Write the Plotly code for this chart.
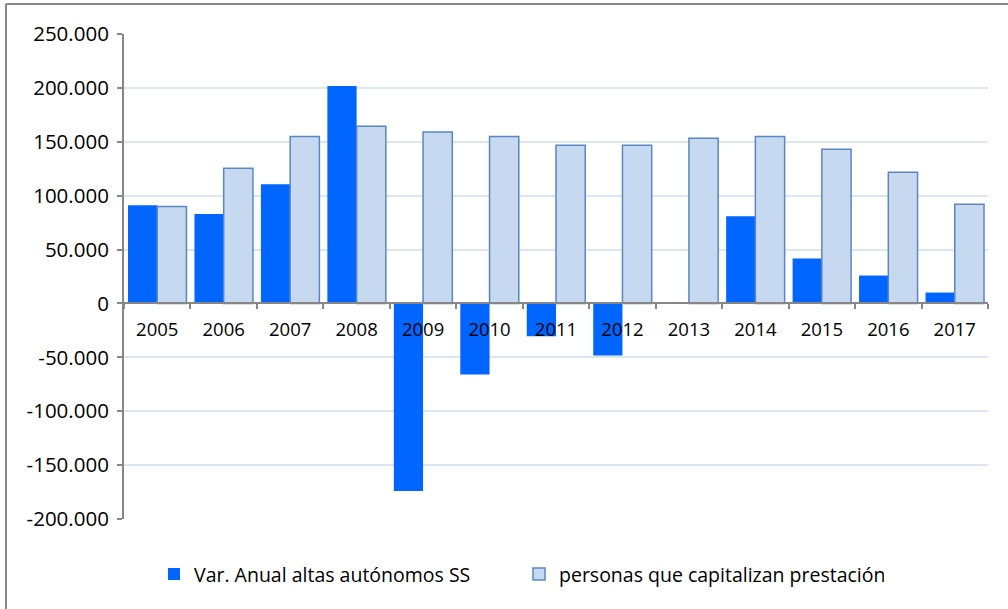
import plotly.graph_objects as go

years = ["2005", "2006", "2007", "2008", "2009", "2010", "2011", "2012",
         "2013", "2014", "2015", "2016", "2017"]
var_anual = [91000, 83000, 110500, 201700, -174000, -66000, -30500, -48300,
             0, 80800, 41700, 25900, 10100]
capitalizan = [90000, 125400, 155000, 164500, 159000, 155000, 146800, 146800,
               153300, 155000, 143000, 121700, 92000]
ytick_vals = [-200000, -150000, -100000, -50000, 0, 50000, 100000, 150000, 200000, 250000]
ytick_text = ["-200.000", "-150.000", "-100.000", "-50.000", "0", "50.000",
              "100.000", "150.000", "200.000", "250.000"]

FONT = "Open Sans"
fig = go.Figure()
fig.add_trace(go.Bar(x=years, y=var_anual, name="Var. Anual altas autónomos SS",
                     marker=dict(color="#0066FF", line=dict(width=0))))
fig.add_trace(go.Bar(x=years, y=capitalizan, name="personas que capitalizan prestación",
                     marker=dict(color="#C6D9F0", line=dict(color="#5A87C2", width=1.5))))

L, R, T, B = 124, 20, 34, 90
W, H = 1008, 609
ph = H - T - B
pw = W - L - R
bx = (6 - L) / pw
by = 1 + (T - 4) / ph

fig.update_layout(
    width=W, height=H,
    margin=dict(l=L, r=R, t=T, b=B),
    paper_bgcolor="white", plot_bgcolor="white",
    barmode="group", bargap=0.12, bargroupgap=0,
    font=dict(family=FONT, color="black"),
    showlegend=True,
    legend=dict(orientation="h", x=(154 - L) / pw, xanchor="left", y=-0.114, yanchor="middle",
                font=dict(size=19.5, family=FONT), entrywidth=320, entrywidthmode="pixels"),
    xaxis=dict(type="category", anchor="free", position=200000 / 450000,
               showline=True, linecolor="#878787", linewidth=2,
               ticks="outside", tickson="boundaries", ticklen=5, tickcolor="#878787",
               tickwidth=1.5, showgrid=False, tickfont=dict(size=18.5, family=FONT),
               ticklabelstandoff=9),
    yaxis=dict(range=[-200000, 250000], tickvals=ytick_vals, ticktext=ytick_text,
               showline=True, linecolor="#878787", linewidth=2,
               ticks="outside", ticklen=5, tickcolor="#878787", tickwidth=1.5,
               showgrid=True, gridcolor="#DCE6F2", gridwidth=1.5, zeroline=False,
               tickfont=dict(size=20.5, family=FONT), ticklabelstandoff=4),
    shapes=[
        dict(type="line", xref="paper", yref="paper", x0=bx, x1=1.2, y0=by, y1=by,
             line=dict(color="#878787", width=2)),
        dict(type="line", xref="paper", yref="paper", x0=bx, x1=bx, y0=by, y1=-0.3,
             line=dict(color="#878787", width=2)),
    ],
)
fig.write_html("out.html", config={"displayModeBar": False},
               post_script="document.body.style.margin='0';")
